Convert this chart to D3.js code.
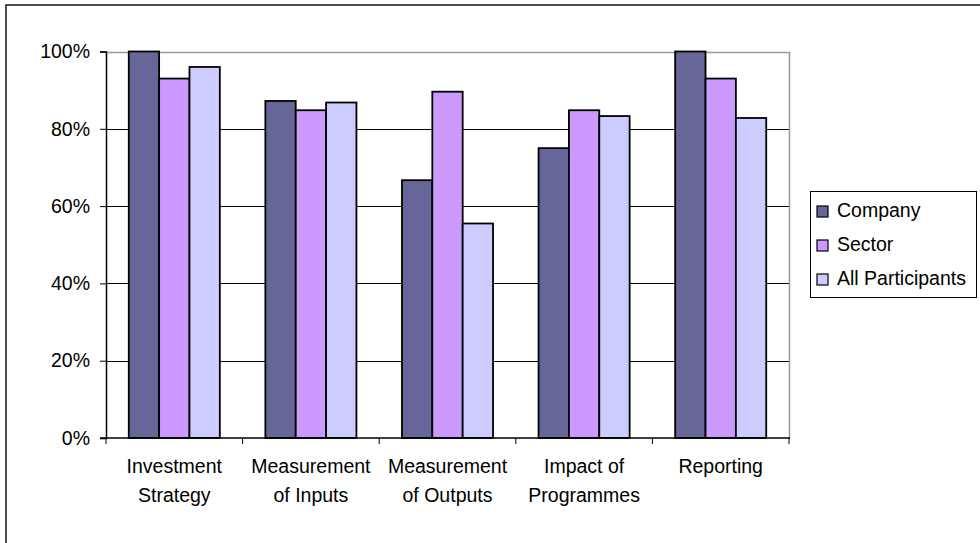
<!DOCTYPE html>
<html>
<head>
<meta charset="utf-8">
<script src="https://cdn.jsdelivr.net/npm/d3@7"></script>
<style>
  body { margin: 0; background: #fff; }
  text { font-family: "Liberation Sans", Arial, sans-serif; fill: #000; }
</style>
</head>
<body>
<script>
// chart data
var categories = ["Investment Strategy", "Measurement of Inputs", "Measurement of Outputs", "Impact of Programmes", "Reporting"]
var catLines = [["Investment", "Strategy"], ["Measurement", "of Inputs"], ["Measurement", "of Outputs"], ["Impact of", "Programmes"], ["Reporting"]]
var seriesNames = ["Company", "Sector", "All Participants"]
var company = [1.00, 0.872, 0.667, 0.75, 1.00]
var sector = [0.93, 0.848, 0.896, 0.848, 0.93]
var allParticipants = [0.96, 0.868, 0.555, 0.833, 0.828]
var yTicks = [0, 0.2, 0.4, 0.6, 0.8, 1.0]

var colors = ["#666699", "#cc99ff", "#ccccff"]
var seriesVals = [company, sector, allParticipants]
var fontSize = "19.5px"

var width = 980, height = 543
var plot = {left: 106, right: 789, top: 51.5, bottom: 438}

var svg = d3.select("body").append("svg")
  .attr("width", width)
  .attr("height", height)

// outer chart frame (runs off the canvas on right and bottom)
svg.append("rect")
  .attr("x", 6).attr("y", 5)
  .attr("width", 1000).attr("height", 600)
  .attr("fill", "none").attr("stroke", "#111").attr("stroke-width", 1.5)

var x0 = d3.scaleBand()
  .domain(categories)
  .range([plot.left, plot.right])
  .paddingInner(0).paddingOuter(0)

// gap width 150% like the spreadsheet default
var step = x0.bandwidth()
var barW = step / (3 + 1.5)
var groupOff = barW * 0.75

var y = d3.scaleLinear().domain([0, 1]).range([plot.bottom, plot.top])

// gridlines
svg.append("g").selectAll("line")
  .data(yTicks.filter(function(d) { return d > 0 && d < 1 }))
  .enter().append("line")
  .attr("x1", plot.left).attr("x2", plot.right)
  .attr("y1", function(d) { return Math.round(y(d)) + 0.5 })
  .attr("y2", function(d) { return Math.round(y(d)) + 0.5 })
  .attr("stroke", "#000").attr("stroke-width", 1)

// plot area border top / right (grey)
svg.append("path")
  .attr("d", "M" + plot.left + "," + (Math.round(plot.top) + 0.5) + "H" + (plot.right + 0.5) + "V" + plot.bottom)
  .attr("fill", "none").attr("stroke", "#999").attr("stroke-width", 1.5)

// bars
var groups = svg.append("g").selectAll("g")
  .data(seriesVals)
  .enter().append("g")
  .attr("fill", function(d, i) { return colors[i] })

groups.each(function(vals, si) {
  d3.select(this).selectAll("rect")
    .data(vals)
    .enter().append("rect")
    .attr("x", function(d, ci) { return x0(categories[ci]) + groupOff + si * barW })
    .attr("y", function(d) { return y(d) })
    .attr("width", barW)
    .attr("height", function(d) { return y(0) - y(d) })
    .attr("stroke", "#000").attr("stroke-width", 1.8)
})

// y axis
var yAxis = svg.append("g")
  .attr("transform", "translate(" + plot.left + ",0)")
  .call(d3.axisLeft(y).tickValues(yTicks).tickSize(6).tickPadding(10)
    .tickFormat(function(d) { return Math.round(d * 100) + "%" }))
yAxis.select(".domain").attr("stroke", "#000").attr("stroke-width", 1.5)
yAxis.selectAll(".tick line").attr("stroke", "#000")
yAxis.selectAll("text").style("font-size", fontSize).attr("fill", "#000")

// x axis
var xAxis = svg.append("g")
  .attr("transform", "translate(0," + plot.bottom + ")")
xAxis.append("line")
  .attr("x1", plot.left - 6).attr("x2", plot.right + 1)
  .attr("stroke", "#000").attr("stroke-width", 1.5)
xAxis.selectAll(".xt")
  .data(d3.range(categories.length + 1))
  .enter().append("line")
  .attr("class", "xt")
  .attr("x1", function(i) { return plot.left + i * step })
  .attr("x2", function(i) { return plot.left + i * step })
  .attr("y1", 0).attr("y2", 6)
  .attr("stroke", "#000").attr("stroke-width", 1)

var labels = svg.append("g").selectAll("text")
  .data(categories)
  .enter().append("text")
  .attr("text-anchor", "middle")
  .style("font-size", fontSize)
  .attr("x", function(d) { return x0(d) + step / 2 })
  .attr("y", 473)
labels.each(function(d, i) {
  var t = d3.select(this)
  catLines[i].forEach(function(line, li) {
    t.append("tspan")
      .attr("x", x0(d) + step / 2)
      .attr("dy", li === 0 ? 0 : 29)
      .text(line)
  })
})

// legend
var legend = svg.append("g")
legend.append("rect")
  .attr("x", 810.5).attr("y", 191.5)
  .attr("width", 166).attr("height", 106)
  .attr("fill", "#fff").attr("stroke", "#000").attr("stroke-width", 1)

var items = legend.selectAll(".item")
  .data(seriesNames)
  .enter().append("g")
  .attr("class", "item")
  .attr("transform", function(d, i) { return "translate(817," + (217 + i * 34) + ")" })
items.append("rect")
  .attr("x", 0).attr("y", -11)
  .attr("width", 11).attr("height", 11)
  .attr("fill", function(d, i) { return colors[i] })
  .attr("stroke", "#000").attr("stroke-width", 1.2)
items.append("text")
  .attr("x", 20).attr("y", 0)
  .style("font-size", fontSize)
  .text(function(d) { return d })
</script>
</body>
</html>
